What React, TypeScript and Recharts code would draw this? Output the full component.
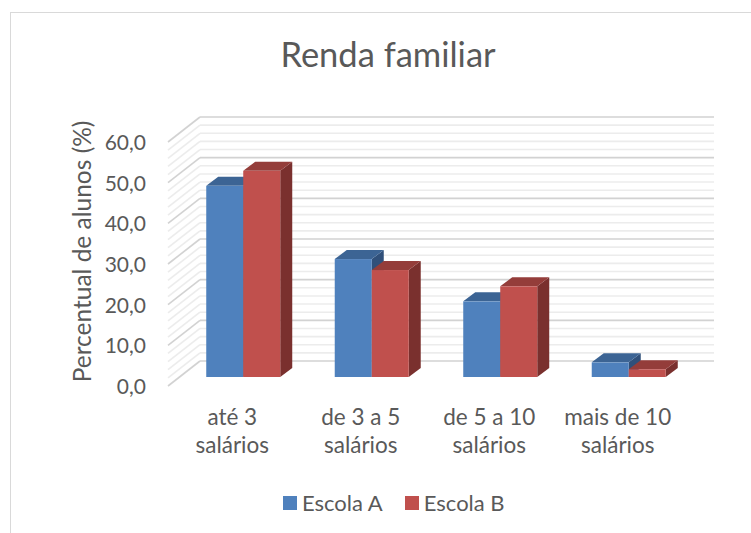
import React from 'react';
import { BarChart, Bar, XAxis, YAxis, CartesianGrid, Legend } from 'recharts';

// ---- data ----
const categories = ['até 3 salários', 'de 3 a 5 salários', 'de 5 a 10 salários', 'mais de 10 salários'];
const categoryLines = [
  ['até 3', 'salários'],
  ['de 3 a 5', 'salários'],
  ['de 5 a 10', 'salários'],
  ['mais de 10', 'salários'],
];
const escolaA = [47.0, 29.0, 18.6, 3.6];
const escolaB = [50.7, 26.3, 22.3, 1.9];
const seriesNames = ['Escola A', 'Escola B'];
const yTicks = [0, 2, 4, 6, 8, 10, 12, 14, 16, 18, 20, 22, 24, 26, 28, 30, 32, 34, 36, 38, 40, 42, 44, 46, 48, 50, 52, 54, 56, 58, 60];
const titleText = 'Renda familiar';
const yAxisTitle = 'Percentual de alunos (%)';

const data = categories.map((name, i) => ({ name, a: escolaA[i], b: escolaB[i], idx: i }));

// ---- styling / 3D geometry ----
const FONT = 'Lato, "Open Sans", sans-serif';
const TEXT = '#595959';
const WALL_DX = 32;
const WALL_DY = -25;
const BAR_DX = 11;
const BAR_DY = -9;
const DEPTH_DX = 12;
const DEPTH_DY = -9;

const COLORS = {
  a: { front: '#4F81BD', top: '#3C6494', side: '#30507A' },
  b: { front: '#C0504D', top: '#943D3A', side: '#7A302E' },
};

const make3DShape = (c: { front: string; top: string; side: string }) => (p: any) => {
  const { x, y, width, height } = p;
  if (x == null || y == null || !width || !height || height <= 0) return <g />;
  const fx = x + BAR_DX;
  const fy = y + BAR_DY;
  const r = fx + width;
  const b = fy + height;
  return (
    <g>
      <polygon
        points={`${r},${fy} ${r + DEPTH_DX},${fy + DEPTH_DY} ${r + DEPTH_DX},${b + DEPTH_DY} ${r},${b}`}
        fill={c.side}
      />
      <polygon
        points={`${fx},${fy} ${fx + DEPTH_DX},${fy + DEPTH_DY} ${r + DEPTH_DX},${fy + DEPTH_DY} ${r},${fy}`}
        fill={c.top}
      />
      <rect x={fx} y={fy} width={width} height={height} fill={c.front} />
    </g>
  );
};

const gridLine = (p: any) => {
  const v = yTicks[p.index];
  const k = `grid-${p.index}`;
  if (v === undefined) return <g key={k} />;
  const major = v % 10 === 0;
  const stroke = major ? '#d2d2d2' : '#ececec';
  const sw = 1.6;
  return (
    <g key={k}>
      <line x1={p.x1} y1={p.y1} x2={p.x1 + WALL_DX} y2={p.y1 + WALL_DY} stroke={stroke} strokeWidth={sw} />
      <line
        x1={p.x1 + WALL_DX}
        y1={p.y1 + WALL_DY}
        x2={p.x2 + WALL_DX}
        y2={p.y2 + WALL_DY}
        stroke={stroke}
        strokeWidth={sw}
      />
    </g>
  );
};

const YTick = (p: any) => {
  const v = p.payload?.value;
  if (v === undefined || v % 10 !== 0) return <g />;
  return (
    <text x={p.x} y={p.y + 8} textAnchor="end" fill={TEXT} fontSize={21} fontFamily={FONT}>
      {Number(v).toFixed(1).replace('.', ',')}
    </text>
  );
};

const XTick = (p: any) => {
  const i = categories.indexOf(p.payload?.value);
  const lines = i >= 0 ? categoryLines[i] : [String(p.payload?.value ?? '')];
  return (
    <g>
      {lines.map((t, j) => (
        <text key={j} x={p.x} y={p.y + 39 + j * 28} textAnchor="middle" fill={TEXT} fontSize={22.5} fontFamily={FONT}>
          {t}
        </text>
      ))}
    </g>
  );
};

const YTitle = (p: any) => {
  const vb = p.viewBox || { x: 8, y: 142, width: 160, height: 244 };
  const cx = vb.x + 83;
  const cy = vb.y + vb.height / 2 - 12.5;
  return (
    <text
      x={cx}
      y={cy}
      transform={`rotate(-90 ${cx} ${cy})`}
      textAnchor="middle"
      fill={TEXT}
      fontSize={24.5}
      fontFamily={FONT}
    >
      {yAxisTitle}
    </text>
  );
};

const LegendContent = (p: any) => {
  const items = (p.payload || []) as any[];
  return (
    <div
      style={{
        height: 24,
        display: 'flex',
        alignItems: 'center',
        paddingLeft: 283,
        fontFamily: FONT,
        fontSize: 22,
        color: TEXT,
      }}
    >
      {items.map((it, i) => (
        <div key={i} style={{ display: 'flex', alignItems: 'center', marginRight: 22 }}>
          <div style={{ width: 14, height: 14, background: it.color, marginRight: 5 }} />
          <span style={{ lineHeight: '24px' }}>{it.value}</span>
        </div>
      ))}
    </div>
  );
};

export default function App() {
  return (
    <div style={{ position: 'absolute', left: 0, top: 0, width: 751, height: 533, background: '#fff', overflow: 'hidden' }}>
      <svg width={751} height={533} style={{ position: 'absolute', left: 0, top: 0 }}>
        <rect x={10.5} y={12.5} width={800} height={600} fill="#fff" stroke="#d9d9d9" strokeWidth={1} />
        <text x={388} y={66.5} textAnchor="middle" fill={TEXT} fontSize={34.5} fontFamily={FONT}>
          {titleText}
        </text>
      </svg>
      <div style={{ position: 'absolute', left: 0, top: 0 }}>
        <BarChart
          width={751}
          height={533}
          data={data}
          margin={{ top: 142, right: 69, bottom: 18, left: 8 }}
          barCategoryGap="21.2%"
          barGap={0}
        >
          <CartesianGrid vertical={false} horizontal={gridLine} />
          <XAxis
            dataKey="name"
            axisLine={false}
            tickLine={false}
            tickSize={0}
            tickMargin={0}
            height={105}
            interval={0}
            tick={<XTick />}
          />
          <YAxis
            type="number"
            domain={[0, 60]}
            ticks={yTicks}
            interval={0}
            width={160}
            axisLine={false}
            tickLine={false}
            tickSize={0}
            tickMargin={22}
            tick={<YTick />}
            label={(props: any) => <YTitle {...props} />}
          />
          <Legend
            verticalAlign="bottom"
            height={24}
            wrapperStyle={{ left: 0, width: 751 }}
            content={<LegendContent />}
          />
          <Bar dataKey="a" name={seriesNames[0]} fill={COLORS.a.front} isAnimationActive={false} shape={make3DShape(COLORS.a)} />
          <Bar dataKey="b" name={seriesNames[1]} fill={COLORS.b.front} isAnimationActive={false} shape={make3DShape(COLORS.b)} />
        </BarChart>
      </div>
    </div>
  );
}
